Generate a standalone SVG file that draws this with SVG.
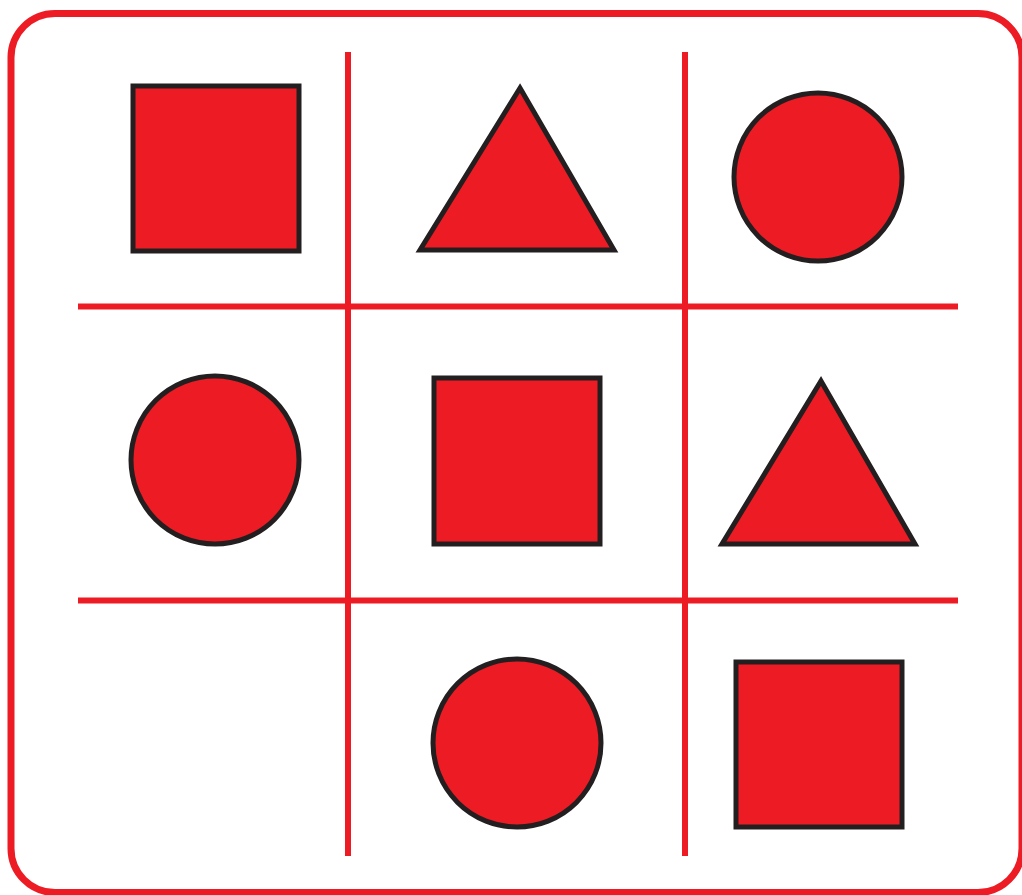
<svg xmlns="http://www.w3.org/2000/svg" width="1022" height="895" viewBox="0 0 1022 895">
<style>
.frame{fill:none;stroke:#ed1c24;stroke-width:7}
.grid line{stroke:#ed1c24;stroke-width:6}
.shape{fill:#ed1c24;stroke:#231f20;stroke-width:5;stroke-linejoin:miter}
</style>
<rect width="1022" height="895" fill="#fff"/>
<rect class="frame" x="11" y="13.5" width="1011" height="879" rx="44"/>
<g class="grid" id="connectors">
<line x1="348" y1="52" x2="348" y2="856"/>
<line x1="685" y1="52" x2="685" y2="856"/>
<line x1="78" y1="306.5" x2="958" y2="306.5"/>
<line x1="78" y1="600.5" x2="958" y2="600.5"/>
</g>
<g id="r1c1"><rect class="shape" x="133" y="86" width="166" height="165"/></g>
<g id="r1c2"><polygon class="shape" points="520,88 614,250 420,250"/></g>
<g id="r1c3"><circle class="shape" cx="818" cy="177" r="84"/></g>
<g id="r2c1"><circle class="shape" cx="215" cy="460" r="84"/></g>
<g id="r2c2"><rect class="shape" x="434" y="378" width="166" height="166"/></g>
<g id="r2c3"><polygon class="shape" points="821,381 915,544 722,544"/></g>
<g id="r3c2"><circle class="shape" cx="517" cy="743" r="84"/></g>
<g id="r3c3"><rect class="shape" x="736" y="662" width="166" height="165"/></g>
</svg>
